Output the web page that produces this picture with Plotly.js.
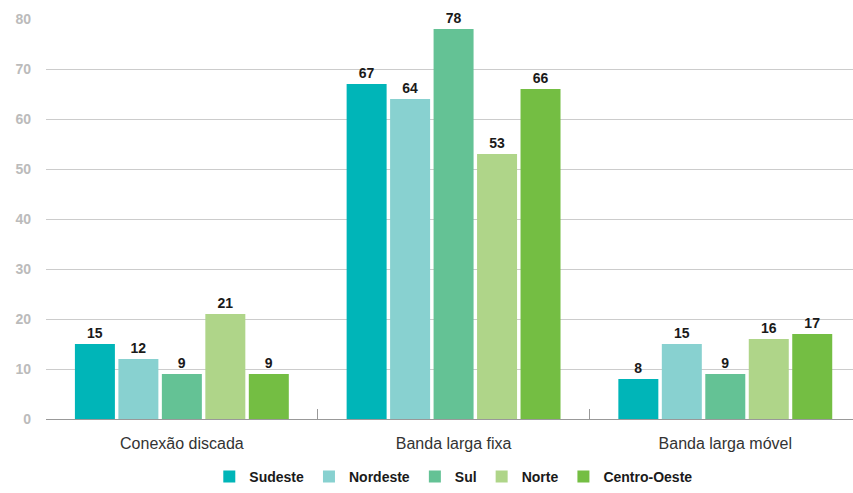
<!DOCTYPE html>
<html><head><meta charset="utf-8">
<script src="https://cdn.plot.ly/plotly-3.0.1.min.js"></script>
<style>html,body{margin:0;padding:0;background:#fff}#chart{width:853px;height:493px}</style>
</head><body><div id="chart"></div>
<script>
const categories = ["Conexão discada", "Banda larga fixa", "Banda larga móvel"];
const seriesNames = ["Sudeste", "Nordeste", "Sul", "Norte", "Centro-Oeste"];
const sudeste = [15, 67, 8];
const nordeste = [12, 64, 15];
const sul = [9, 78, 9];
const norte = [21, 53, 16];
const centroOeste = [9, 66, 17];
const yTicks = [0, 10, 20, 30, 40, 50, 60, 70, 80];

const values = [sudeste, nordeste, sul, norte, centroOeste];
const colors = ["#00b5b8", "#88d1d0", "#64c295", "#afd589", "#74be43"];

const traces = seriesNames.map((name, i) => ({
  type: "bar",
  name: name,
  x: categories,
  y: values[i],
  marker: {color: colors[i]},
  text: values[i].map(String),
  textposition: "outside",
  cliponaxis: false,
  textfont: {family: "Liberation Sans, Arial, sans-serif", size: 14, color: "#1a1a1a", weight: "bold"},
  hoverinfo: "none"
}));

const layout = {
  width: 853, height: 493,
  margin: {l: 46, r: 0, t: 19, b: 74},
  paper_bgcolor: "#fff", plot_bgcolor: "#fff",
  barmode: "group",
  bargap: 0.2,
  bargroupgap: 0.08,
  font: {family: "Liberation Sans, Arial, sans-serif"},
  xaxis: {
    range: [-0.5, 2.47],
    showline: true, linecolor: "#999", linewidth: 1,
    ticks: "inside", tickson: "boundaries", ticklen: 10, tickcolor: "#999",
    tickfont: {size: 16, color: "#333", family: "Liberation Sans, Arial, sans-serif"},
    ticklabelstandoff: 10,
    showgrid: false, zeroline: false
  },
  yaxis: {
    range: [0, 80], tickvals: yTicks,
    showgrid: true, gridcolor: "#cccccc", gridwidth: 1,
    zeroline: false, showline: false,
    tickfont: {size: 14, color: "#bbbbbb", family: "Liberation Sans, Arial, sans-serif", weight: "bold"},
    ticklabelstandoff: 14
  },
  showlegend: true,
  legend: {
    orientation: "h", x: 0.532, xanchor: "center", xref: "container",
    y: -0.016, yanchor: "bottom", yref: "container",
    font: {size: 14, color: "#1a1a1a", family: "Liberation Sans, Arial, sans-serif", weight: "bold"},
    itemwidth: 30, traceorder: "normal"
  }
};

Plotly.newPlot("chart", traces, layout, {displayModeBar: false, staticPlot: true});
</script></body></html>
